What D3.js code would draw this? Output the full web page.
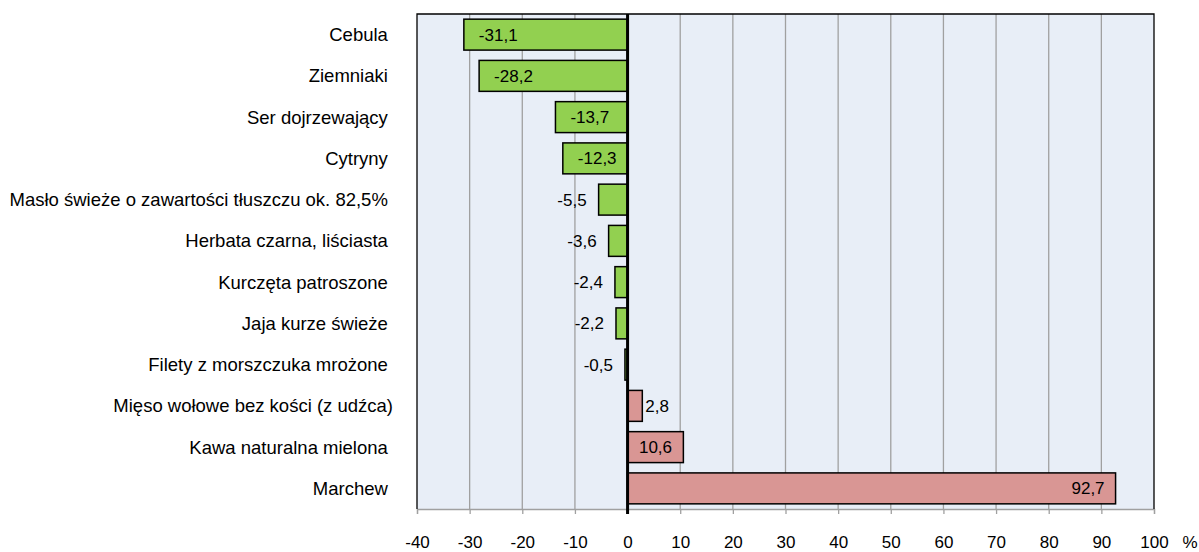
<!DOCTYPE html>
<html>
<head>
<meta charset="utf-8">
<script src="https://cdn.jsdelivr.net/npm/d3@7"></script>
<style type="text/css">
body {
	margin: 0;
	background: #ffffff;
}
text {
	font-family: "Liberation Sans", Arial, sans-serif;
	font-size: 17px;
	fill: #000;
}
.cat {
	white-space: pre;
	font-size: 18.5px;
}
</style>
</head>
<body>
<svg id="chart" width="1199" height="552"></svg>
<script type="text/javascript">
// data
var categories = [
	"Cebula ",
	"Ziemniaki ",
	"Ser dojrzewający ",
	"Cytryny ",
	"Masło świeże o zawartości tłuszczu ok. 82,5% ",
	"Herbata czarna, liściasta ",
	"Kurczęta patroszone ",
	"Jaja kurze świeże ",
	"Filety z morszczuka mrożone ",
	"Mięso wołowe bez kości (z udźca)",
	"Kawa naturalna mielona ",
	"Marchew "
];
var values = [-31.1, -28.2, -13.7, -12.3, -5.5, -3.6, -2.4, -2.2, -0.5, 2.8, 10.6, 92.7];
var xTicks = [-40, -30, -20, -10, 0, 10, 20, 30, 40, 50, 60, 70, 80, 90, 100];
var unitLabel = "%";

var svg = d3.select("#chart");
var plotLeft = 417, plotRight = 1154, plotTop = 14, plotBottom = 509;

var x = d3.scaleLinear().domain([-40, 100]).range([plotLeft, plotRight]);
var y = d3.scaleBand().domain(d3.range(categories.length)).range([plotTop, plotBottom]).paddingInner(0.25).paddingOuter(0.125);

var fmt = function(v){ return (v + "").replace(".", ","); };

// plot background
svg.append("rect")
	.attr("x", plotLeft).attr("y", plotTop)
	.attr("width", plotRight - plotLeft).attr("height", plotBottom - plotTop)
	.style("fill", "#e8eef7");

// gridlines
svg.append("g").selectAll("line")
	.data(xTicks.filter(function(d){ return d != 0 && d != -40 && d != 100; }))
	.enter().append("line")
	.attr("x1", function(d){ return x(d); }).attr("x2", function(d){ return x(d); })
	.attr("y1", plotTop).attr("y2", plotBottom)
	.style("stroke", "#a0a0a0").style("stroke-width", 1.3);

// bottom axis with ticks
var axis = svg.append("g")
	.attr("transform", "translate(0," + plotBottom + ")")
	.call(d3.axisBottom(x).tickValues(xTicks).tickSize(5).tickPadding(22).tickFormat(function(d){ return d; }));
axis.select(".domain").style("stroke", "#a0a0a0").style("stroke-width", 1.3);
axis.selectAll(".tick line").style("stroke", "#a0a0a0").style("stroke-width", 1.3);
axis.selectAll(".tick text")
	.style("font-family", "\"Liberation Sans\", Arial, sans-serif")
	.style("font-size", "17px").style("fill", "#000");

svg.append("text")
	.attr("x", 1190).attr("y", plotBottom + 39)
	.attr("text-anchor", "middle")
	.text(unitLabel);

// plot border (top, left, right)
svg.append("path")
	.attr("d", "M" + plotLeft + "," + plotBottom + "V" + plotTop + "H" + plotRight + "V" + plotBottom)
	.style("fill", "none").style("stroke", "#000").style("stroke-width", 1.3);

// bars
svg.append("g").selectAll("rect")
	.data(values)
	.enter().append("rect")
	.attr("x", function(d){ return x(Math.min(0, d)); })
	.attr("y", function(d, i){ return y(i); })
	.attr("width", function(d){ return Math.abs(x(d) - x(0)); })
	.attr("height", y.bandwidth())
	.style("fill", function(d){ return d < 0 ? "#92d050" : "#d99694"; })
	.style("stroke", "#000").style("stroke-width", 1.5);

// zero line
svg.append("line")
	.attr("x1", x(0)).attr("x2", x(0))
	.attr("y1", plotTop).attr("y2", plotBottom + 5)
	.style("stroke", "#000").style("stroke-width", 3);

// category labels
svg.append("g").selectAll("text")
	.data(categories)
	.enter().append("text")
	.attr("class", "cat")
	.attr("x", 393)
	.attr("y", function(d, i){ return y(i) + y.bandwidth() / 2; })
	.attr("dy", "0.35em")
	.attr("text-anchor", "end")
	.text(function(d){ return d; });

// value labels
svg.append("g").selectAll("text")
	.data(values)
	.enter().append("text")
	.attr("y", function(d, i){ return y(i) + y.bandwidth() / 2; })
	.attr("dy", "0.35em")
	.attr("x", function(d){
		var w = Math.abs(x(d) - x(0));
		if (d < 0) return w < 60 ? x(d) - 12 : x(d) + 15;
		if (w < 40) return x(d) + 3;
		if (d < 50) return (x(d) + x(0)) / 2;
		return x(d) - 11;
	})
	.attr("text-anchor", function(d){
		var w = Math.abs(x(d) - x(0));
		if (d < 0) return w < 60 ? "end" : "start";
		if (w < 40) return "start";
		if (d < 50) return "middle";
		return "end";
	})
	.text(fmt);
</script>
</body>
</html>
